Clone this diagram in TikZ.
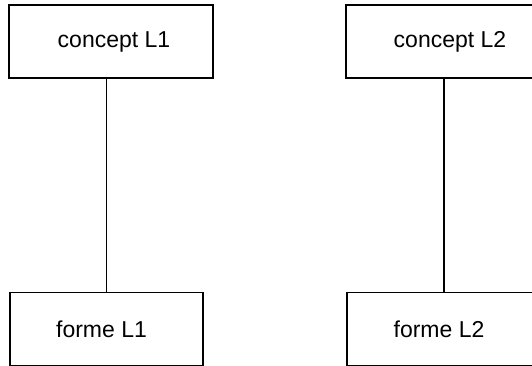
\documentclass[tikz,border=0pt]{standalone}
\usepackage{fontspec}
\setmainfont{Liberation Sans}
\usepackage{tikz}
\usetikzlibrary{positioning,%
  calc%
}

\tikzset{
  box/.style={draw,line width=1.4pt,minimum height=73pt,inner sep=0pt},
  lbl/.style={inner sep=0pt,font=\fontsize{23}{27}\selectfont},
  link/.style={line width=1.4pt}
}

\begin{document}
\begin{tikzpicture}
            [x=1pt,y=1pt]
            
            \useasboundingbox (0,0) rectangle (532,366);
            
            % concepts
            \node[box,minimum width=204pt] (cl1) at (111,324.5) {};
            \node[box,minimum width=202pt] (cl2) at (447,324.5) {};
            \node[lbl] (cl1txt) at ([xshift=3pt]cl1.center) {concept L1};
            \node[lbl] (cl2txt) at ([xshift=3pt]cl2.center) {concept L2};
            
            % formes
            \node[box,minimum width=193pt] (fl1) at (106.5,37) {};
            \node[box,minimum width=194pt] (fl2) at (444,37) {};
            \node[lbl] (fl1txt) at ([xshift=-5pt]fl1.center) {forme L1};
            \node[lbl] (fl2txt) at ([xshift=-5pt]fl2.center) {forme L2};
            
            \draw[link] (fl1.north |- cl1.south) -- (fl1.north);
            \draw[link] (fl2.north |- cl2.south) -- (fl2.north);
        \end{tikzpicture}
\end{document}
